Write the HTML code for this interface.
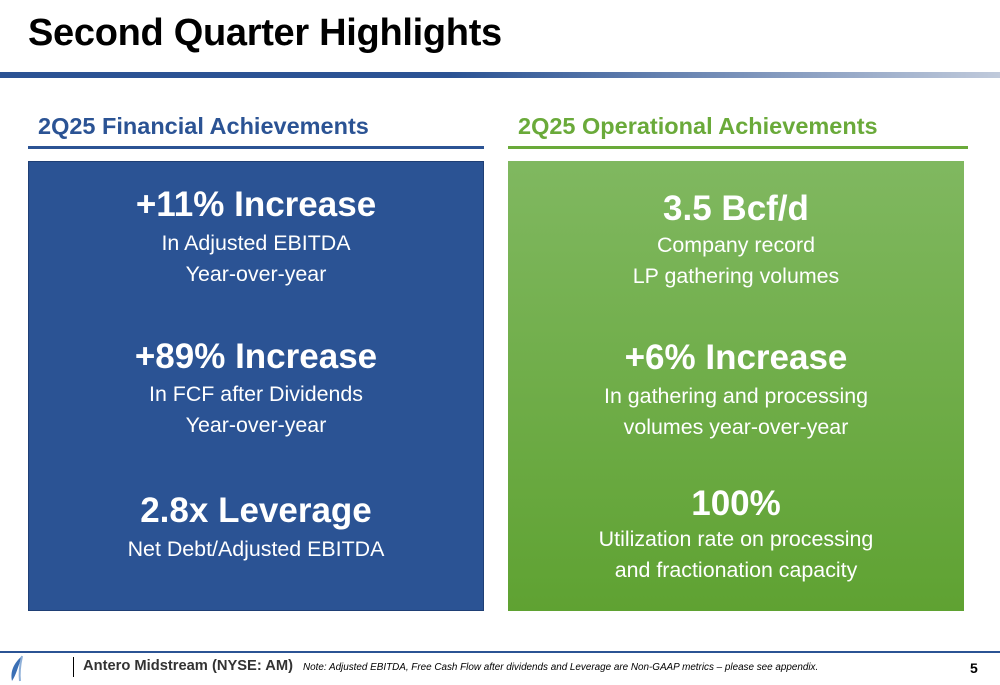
<!DOCTYPE html>
<html><head><meta charset="utf-8"><style>
body{margin:0;width:1000px;height:685px;background:#fff;position:relative;overflow:hidden;font-family:"Liberation Sans",sans-serif}
.a{position:absolute}
.t{position:absolute;width:100%;text-align:center;color:#fff;left:0}
.big{font-weight:bold;font-size:35px}
.sm{font-size:21.4px}
</style></head><body>
<div class="a" style="left:28px;top:12px;font-size:38px;font-weight:bold;color:#000;letter-spacing:-0.3px">Second Quarter Highlights</div>
<div class="a" style="left:0;top:72px;width:1000px;height:6px;background:linear-gradient(90deg,#2b5394 0%,#2b5394 45%,#c0cadb 100%)"></div>

<div class="a" style="left:38px;top:113px;font-size:23.5px;font-weight:bold;color:#2b5394">2Q25 Financial Achievements</div>
<div class="a" style="left:28px;top:146px;width:456px;height:3px;background:#2b5394"></div>
<div class="a" style="left:518px;top:113px;font-size:23.5px;font-weight:bold;color:#6aaa3a">2Q25 Operational Achievements</div>
<div class="a" style="left:508px;top:146px;width:460px;height:3px;background:#6aaa3a"></div>

<div class="a" style="left:28px;top:161px;width:456px;height:450px;background:#2b5394;border:1px solid #1f3f75;box-sizing:border-box">
 <div class="t big" style="top:23px">+11% Increase</div>
 <div class="t sm" style="top:69px">In Adjusted EBITDA</div>
 <div class="t sm" style="top:100px">Year-over-year</div>
 <div class="t big" style="top:175px">+89% Increase</div>
 <div class="t sm" style="top:220px">In FCF after Dividends</div>
 <div class="t sm" style="top:251px">Year-over-year</div>
 <div class="t big" style="top:329px">2.8x Leverage</div>
 <div class="t sm" style="top:375px">Net Debt/Adjusted EBITDA</div>
</div>

<div class="a" style="left:508px;top:161px;width:456px;height:450px;background:linear-gradient(180deg,#80b860,#5fa232)">
 <div class="t big" style="top:28px">3.5 Bcf/d</div>
 <div class="t sm" style="top:72px">Company record</div>
 <div class="t sm" style="top:103px">LP gathering volumes</div>
 <div class="t big" style="top:177px">+6% Increase</div>
 <div class="t sm" style="top:223px">In gathering and processing</div>
 <div class="t sm" style="top:254px">volumes year-over-year</div>
 <div class="t big" style="top:323px">100%</div>
 <div class="t sm" style="top:366px">Utilization rate on processing</div>
 <div class="t sm" style="top:397px">and fractionation capacity</div>
</div>

<div class="a" style="left:0;top:651px;width:1000px;height:2px;background:#2b5394"></div>
<svg class="a" style="left:8px;top:655px" width="20" height="28" viewBox="0 0 20 28"><path d="M14 1 C6 8 2 16 4 26 C8 20 10 12 14 1Z" fill="#3a6fb5"/><path d="M14 1 C12 10 11 18 12 26" stroke="#8fb0d8" fill="none" stroke-width="2"/></svg>
<div class="a" style="left:73px;top:657px;width:1px;height:20px;background:#000"></div>
<div class="a" style="left:83px;top:658px;font-size:14.7px;font-weight:bold;color:#333">Antero Midstream (NYSE: AM)</div>
<div class="a" style="left:303px;top:662px;font-size:9.9px;font-style:italic;color:#000">Note: Adjusted EBITDA, Free Cash Flow after dividends and Leverage are Non-GAAP metrics – please see appendix.</div>
<div class="a" style="left:970px;top:660px;font-size:14px;font-weight:bold;color:#000">5</div>
</body></html>
